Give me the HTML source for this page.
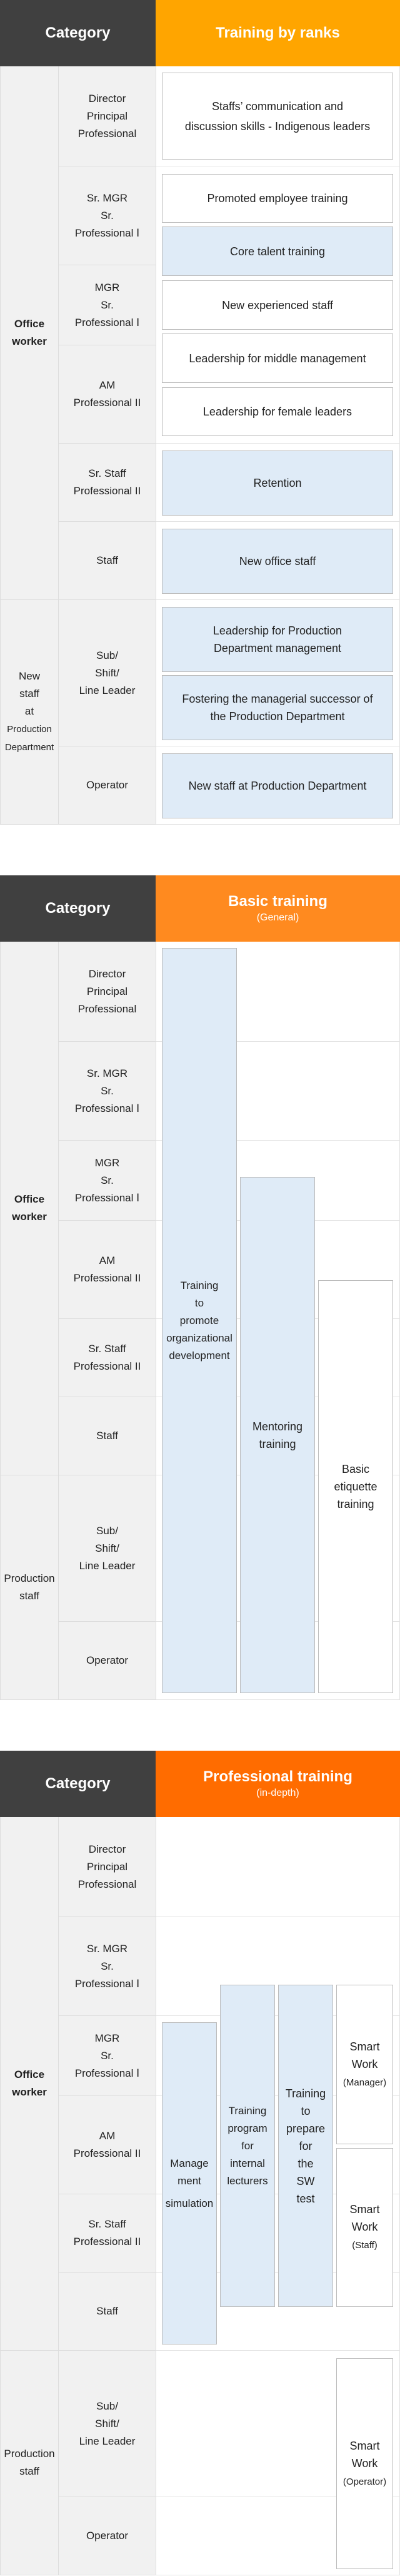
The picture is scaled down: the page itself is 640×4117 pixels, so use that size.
<!DOCTYPE html>
<html><head><meta charset="utf-8"><style>
*{box-sizing:border-box;margin:0;padding:0}
body{width:640px;height:4117px;background:#fff;font-family:"Liberation Sans",sans-serif;color:#222;position:relative;overflow:hidden}
.sec{position:absolute;left:0;width:640px;height:1318px}
.a{position:absolute;display:flex;align-items:center;justify-content:center;text-align:center}
.hl{left:0;top:0;width:249px;height:106px;background:#404040;color:#fff;font-weight:bold;font-size:24px}
.hr{left:249px;top:0;width:391px;height:106px;color:#fff;flex-direction:column}
.hr b{font-size:24px;line-height:30px}
.hr span{font-size:16px;line-height:22px}
.c1{left:0;width:94px;background:#f1f1f1;border:1px solid #ddd;border-top:none;font-size:17px;line-height:28px}
.c2{left:93px;width:157px;background:#f1f1f1;border:1px solid #ddd;border-top:none;font-size:17px;line-height:28px}
.rr{left:249px;width:391px;border-bottom:1px solid #e3e3e3;border-right:1px solid #e3e3e3}
.bx{border:1px solid #bbb;background:#fff;font-size:18px;line-height:28px}
.bl{background:#dfebf7}
.sm{font-size:15px}
</style></head><body>

<!-- SECTION 1 -->
<div class="sec" style="top:0">
<div class="a hl"><div>Category</div></div>
<div class="a hr" style="background:#ffa500"><b>Training by ranks</b></div>
<div class="a c1" style="top:106px;height:853px;font-weight:bold"><div>Office<br>worker</div></div>
<div class="a c1" style="top:959px;height:359px"><div>New<br>staff<br>at<br><span class="sm">Production<br>Department</span></div></div>
<div class="a c2" style="top:106px;height:160px"><div>Director<br>Principal<br>Professional</div></div>
<div class="a c2" style="top:266px;height:158px"><div>Sr. MGR<br>Sr.<br>Professional Ⅰ</div></div>
<div class="a c2" style="top:424px;height:128px"><div>MGR<br>Sr.<br>Professional Ⅰ</div></div>
<div class="a c2" style="top:552px;height:157px"><div>AM<br>Professional II</div></div>
<div class="a c2" style="top:709px;height:125px"><div>Sr. Staff<br>Professional II</div></div>
<div class="a c2" style="top:834px;height:125px"><div>Staff</div></div>
<div class="a c2" style="top:959px;height:234px"><div>Sub/<br>Shift/<br>Line Leader</div></div>
<div class="a c2" style="top:1193px;height:125px"><div>Operator</div></div>
<div class="a rr" style="top:106px;height:160px"></div>
<div class="a rr" style="top:266px;height:443px"></div>
<div class="a rr" style="top:709px;height:125px"></div>
<div class="a rr" style="top:834px;height:125px"></div>
<div class="a rr" style="top:959px;height:234px"></div>
<div class="a rr" style="top:1193px;height:125px"></div>
<div class="a bx" style="left:259px;width:370px;top:116px;height:139px;line-height:32px"><div>Staffs’ communication and<br>discussion skills - Indigenous leaders</div></div>
<div class="a bx" style="left:259px;width:370px;top:278px;height:78px"><div>Promoted employee training</div></div>
<div class="a bx bl" style="left:259px;width:370px;top:362px;height:79px"><div>Core talent training</div></div>
<div class="a bx" style="left:259px;width:370px;top:448px;height:79px"><div>New experienced staff</div></div>
<div class="a bx" style="left:259px;width:370px;top:533px;height:79px"><div>Leadership for middle management</div></div>
<div class="a bx" style="left:259px;width:370px;top:619px;height:78px"><div>Leadership for female leaders</div></div>
<div class="a bx bl" style="left:259px;width:370px;top:720px;height:104px"><div>Retention</div></div>
<div class="a bx bl" style="left:259px;width:370px;top:845px;height:104px"><div>New office staff</div></div>
<div class="a bx bl" style="left:259px;width:370px;top:970px;height:104px"><div>Leadership for Production<br>Department management</div></div>
<div class="a bx bl" style="left:259px;width:370px;top:1079px;height:104px"><div>Fostering the managerial successor of<br>the Production Department</div></div>
<div class="a bx bl" style="left:259px;width:370px;top:1204px;height:104px"><div>New staff at Production Department</div></div>
</div>

<!-- SECTION 2 -->
<div class="sec" style="top:1399px">
<div class="a hl"><div>Category</div></div>
<div class="a hr" style="background:#ff8a1f"><b>Basic training</b><span>(General)</span></div>
<div class="a c1" style="top:106px;height:853px;font-weight:bold"><div>Office<br>worker</div></div>
<div class="a c1" style="top:959px;height:359px"><div>Production<br>staff</div></div>
<div class="a c2" style="top:106px;height:160px"><div>Director<br>Principal<br>Professional</div></div>
<div class="a c2" style="top:266px;height:158px"><div>Sr. MGR<br>Sr.<br>Professional Ⅰ</div></div>
<div class="a c2" style="top:424px;height:128px"><div>MGR<br>Sr.<br>Professional Ⅰ</div></div>
<div class="a c2" style="top:552px;height:157px"><div>AM<br>Professional II</div></div>
<div class="a c2" style="top:709px;height:125px"><div>Sr. Staff<br>Professional II</div></div>
<div class="a c2" style="top:834px;height:125px"><div>Staff</div></div>
<div class="a c2" style="top:959px;height:234px"><div>Sub/<br>Shift/<br>Line Leader</div></div>
<div class="a c2" style="top:1193px;height:125px"><div>Operator</div></div>
<div class="a rr" style="top:106px;height:160px"></div>
<div class="a rr" style="top:266px;height:158px"></div>
<div class="a rr" style="top:424px;height:128px"></div>
<div class="a rr" style="top:552px;height:157px"></div>
<div class="a rr" style="top:709px;height:125px"></div>
<div class="a rr" style="top:834px;height:125px"></div>
<div class="a rr" style="top:959px;height:234px"></div>
<div class="a rr" style="top:1193px;height:125px"></div>
<div class="a bx bl" style="left:259px;width:120px;top:116px;height:1191px;font-size:17px"><div>Training<br>to<br>promote<br>organizational<br>development</div></div>
<div class="a bx bl" style="left:384px;width:120px;top:482px;height:825px"><div>Mentoring<br>training</div></div>
<div class="a bx" style="left:509px;width:120px;top:647px;height:660px"><div>Basic<br>etiquette<br>training</div></div>
</div>

<!-- SECTION 3 -->
<div class="sec" style="top:2798px">
<div class="a hl"><div>Category</div></div>
<div class="a hr" style="background:#ff6c00"><b>Professional training</b><span>(in-depth)</span></div>
<div class="a c1" style="top:106px;height:853px;font-weight:bold"><div>Office<br>worker</div></div>
<div class="a c1" style="top:959px;height:359px"><div>Production<br>staff</div></div>
<div class="a c2" style="top:106px;height:160px"><div>Director<br>Principal<br>Professional</div></div>
<div class="a c2" style="top:266px;height:158px"><div>Sr. MGR<br>Sr.<br>Professional Ⅰ</div></div>
<div class="a c2" style="top:424px;height:128px"><div>MGR<br>Sr.<br>Professional Ⅰ</div></div>
<div class="a c2" style="top:552px;height:157px"><div>AM<br>Professional II</div></div>
<div class="a c2" style="top:709px;height:125px"><div>Sr. Staff<br>Professional II</div></div>
<div class="a c2" style="top:834px;height:125px"><div>Staff</div></div>
<div class="a c2" style="top:959px;height:234px"><div>Sub/<br>Shift/<br>Line Leader</div></div>
<div class="a c2" style="top:1193px;height:125px"><div>Operator</div></div>
<div class="a rr" style="top:106px;height:160px"></div>
<div class="a rr" style="top:266px;height:158px"></div>
<div class="a rr" style="top:424px;height:128px"></div>
<div class="a rr" style="top:552px;height:157px"></div>
<div class="a rr" style="top:709px;height:125px"></div>
<div class="a rr" style="top:834px;height:125px"></div>
<div class="a rr" style="top:959px;height:234px"></div>
<div class="a rr" style="top:1193px;height:125px"></div>
<div class="a bx bl" style="left:259px;width:88px;top:434px;height:515px;font-size:17px"><div>Manage<br>ment<div style="margin-top:8px">simulation</div></div></div>
<div class="a bx bl" style="left:352px;width:88px;top:374px;height:515px;font-size:17px"><div>Training<br>program<br>for<br>internal<br>lecturers</div></div>
<div class="a bx bl" style="left:445px;width:88px;top:374px;height:515px"><div>Training<br>to<br>prepare<br>for<br>the<br>SW<br>test</div></div>
<div class="a bx" style="left:538px;width:91px;top:374px;height:255px"><div>Smart<br>Work<br><span class="sm">(Manager)</span></div></div>
<div class="a bx" style="left:538px;width:91px;top:635px;height:254px"><div>Smart<br>Work<br><span class="sm">(Staff)</span></div></div>
<div class="a bx" style="left:538px;width:91px;top:971px;height:337px"><div>Smart<br>Work<br><span class="sm">(Operator)</span></div></div>
</div>

</body></html>
